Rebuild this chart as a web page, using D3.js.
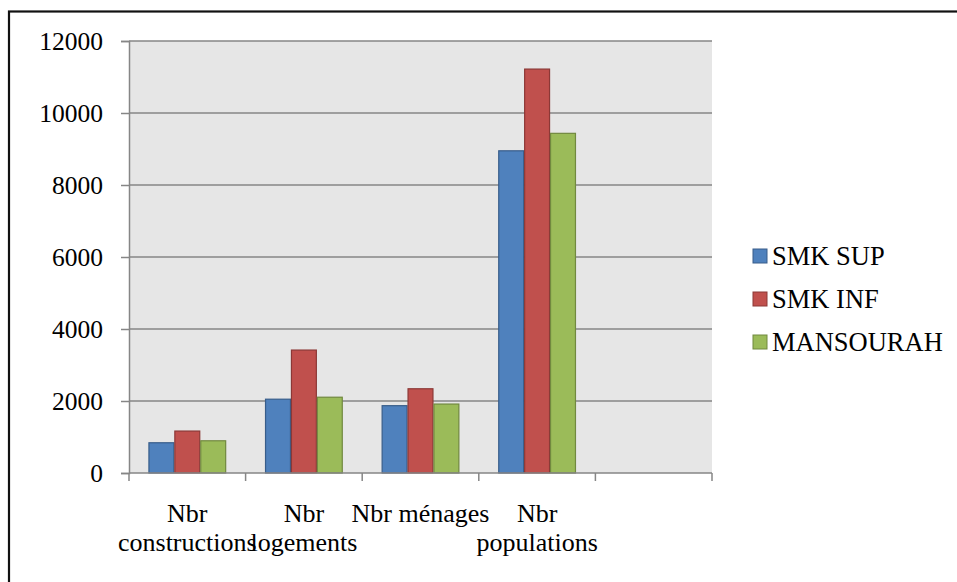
<!DOCTYPE html>
<html>
<head>
<meta charset="utf-8">
<script src="https://cdn.jsdelivr.net/npm/d3@7"></script>
<style>
  html, body { margin: 0; padding: 0; background: #fff; }
  svg { display: block; }
</style>
</head>
<body>
<svg id="chart" width="957" height="582"></svg>
<script>
// Counts per district
const categories = ["Nbr constructions", "Nbr logements", "Nbr ménages", "Nbr populations"];
const categoryLabelLines = [["Nbr", "constructions"], ["Nbr", "logements"], ["Nbr ménages"], ["Nbr", "populations"]];
const seriesNames = ["SMK SUP", "SMK INF", "MANSOURAH"];
const smkSup = [840, 2050, 1870, 8950];
const smkInf = [1165, 3415, 2340, 11220];
const mansourah = [895, 2105, 1915, 9435];
const yTicks = [0, 2000, 4000, 6000, 8000, 10000, 12000];

const seriesValues = [smkSup, smkInf, mansourah];
const fills = ["#4f81bd", "#c0504d", "#9bbb59"];
const strokes = ["#385d8a", "#8c3836", "#71893f"];

const svg = d3.select("#chart");
const plot = { left: 129, right: 712, top: 41, bottom: 473 };
const fontFamily = '"Liberation Serif"';

// Outer chart frame
svg.append("rect")
  .attr("x", 9).attr("y", 11.5)
  .attr("width", 1000).attr("height", 700)
  .attr("fill", "#fff").attr("stroke", "#111").attr("stroke-width", 2.2);

// Plot background
svg.append("rect")
  .attr("x", plot.left).attr("y", plot.top)
  .attr("width", plot.right - plot.left).attr("height", plot.bottom - plot.top)
  .attr("fill", "#e6e6e6");

// Five slots: four categories plus one empty slot
const slots = categories.concat([""]);
const x = d3.scaleBand().domain(d3.range(slots.length)).range([plot.left, plot.right]).paddingInner(0).paddingOuter(0);
const xInner = d3.scaleBand().domain(d3.range(seriesNames.length)).range([0, x.bandwidth()]).paddingInner(0).paddingOuter(0.75);
const y = d3.scaleLinear().domain([0, 12000]).range([plot.bottom, plot.top]);

// Gridlines
svg.append("g").selectAll("line").data(yTicks.filter(d => d > 0)).join("line")
  .attr("x1", plot.left).attr("x2", plot.right)
  .attr("y1", d => y(d)).attr("y2", d => y(d))
  .attr("stroke", "#868686").attr("stroke-width", 1.3);

// Bars
const groups = svg.append("g").selectAll("g").data(categories).join("g")
  .attr("transform", (d, i) => `translate(${x(i)},0)`);
groups.selectAll("rect").data((d, i) => seriesValues.map((vals, s) => ({ s, v: vals[i] }))).join("rect")
  .attr("x", d => xInner(d.s) + 0.5)
  .attr("width", xInner.bandwidth() - 1)
  .attr("y", d => y(d.v))
  .attr("height", d => y(0) - y(d.v))
  .attr("fill", d => fills[d.s])
  .attr("stroke", d => strokes[d.s]).attr("stroke-width", 1.2);

// Y axis
const yAxis = d3.axisLeft(y).tickValues(yTicks).tickSize(8).tickPadding(18).tickFormat(d3.format("d"));
const gy = svg.append("g").attr("transform", `translate(${plot.left},0)`).call(yAxis)
  .attr("font-family", "Liberation Serif").attr("font-size", 25.5);
gy.select(".domain").attr("stroke", "#868686").attr("stroke-width", 1.5);
gy.selectAll(".tick line").attr("stroke", "#868686").attr("stroke-width", 1.5);
gy.selectAll(".tick text")
  .style("font-family", fontFamily).style("font-size", "25.5px").attr("fill", "#000");

// X axis with ticks at slot boundaries
const boundaries = d3.range(slots.length + 1).map(i => plot.left + i * x.step());
svg.append("line")
  .attr("x1", plot.left).attr("x2", plot.right)
  .attr("y1", plot.bottom).attr("y2", plot.bottom)
  .attr("stroke", "#868686").attr("stroke-width", 1.5);
svg.append("g").selectAll("line").data(boundaries).join("line")
  .attr("x1", d => d).attr("x2", d => d)
  .attr("y1", plot.bottom).attr("y2", plot.bottom + 8)
  .attr("stroke", "#868686").attr("stroke-width", 1.5);

// Category labels
const labels = svg.append("g").selectAll("text").data(categoryLabelLines).join("text")
  .attr("text-anchor", "middle")
  .style("font-family", fontFamily).style("font-size", "26px").attr("fill", "#000");
labels.each(function (lines, i) {
  d3.select(this).selectAll("tspan").data(lines).join("tspan")
    .attr("x", x(i) + x.bandwidth() / 2)
    .attr("y", (l, j) => 522 + j * 28.5)
    .text(l => l);
});

// Legend
const legend = svg.append("g").selectAll("g").data(seriesNames).join("g")
  .attr("transform", (d, i) => `translate(753,${249 + i * 43})`);
legend.append("rect")
  .attr("width", 14).attr("height", 14)
  .attr("fill", (d, i) => fills[i]).attr("stroke", (d, i) => strokes[i]).attr("stroke-width", 1);
legend.append("text")
  .attr("x", 19).attr("y", 15.5)
  .style("font-family", fontFamily).style("font-size", "26.5px").attr("fill", "#000")
  .text(d => d);
</script>
</body>
</html>
